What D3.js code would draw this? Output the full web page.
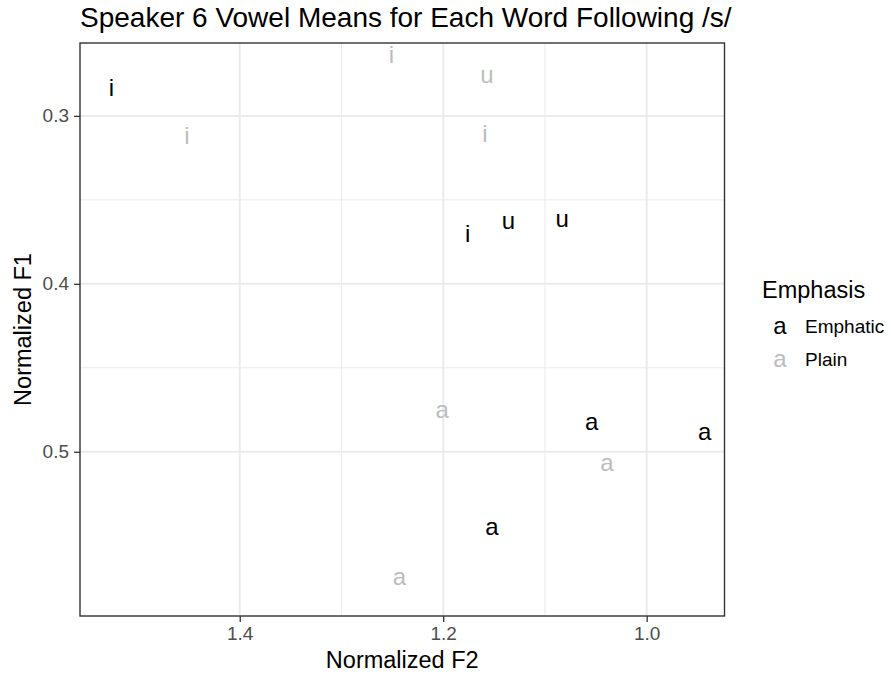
<!DOCTYPE html>
<html>
<head>
<meta charset="utf-8">
<script src="https://cdn.jsdelivr.net/npm/d3@7"></script>
<style>
  html, body { margin: 0; padding: 0; background: #fff; }
  svg { display: block; }
</style>
</head>
<body>
<svg id="chart" width="891" height="674"></svg>
<script>
// ---- data ----
const emphaticVowels = ["i", "i", "u", "u", "a", "a", "a"];
const emphaticF2     = [1.526, 1.176, 1.136, 1.083, 1.054, 0.943, 1.152];
const emphaticF1     = [0.284, 0.371, 0.363, 0.362, 0.4825, 0.489, 0.545];

const plainVowels = ["i", "u", "i", "i", "a", "a", "a"];
const plainF2     = [1.251, 1.157, 1.452, 1.159, 1.201, 1.039, 1.243];
const plainF1     = [0.264, 0.276, 0.3125, 0.3115, 0.4755, 0.507, 0.575];

const groups = ["Emphatic", "Plain"];
const groupColors = ["#000000", "#bdbdbd"];

const xMajor = [1.4, 1.2, 1.0];
const xMinor = [1.3, 1.1];
const yMajor = [0.3, 0.4, 0.5];
const yMinor = [0.35, 0.45];
const xDomain = [1.557, 0.9235];
const yDomain = [0.2566, 0.5978];

const titleText = "Speaker 6 Vowel Means for Each Word Following /s/";
const xTitle = "Normalized F2";
const yTitle = "Normalized F1";
const legendTitle = "Emphasis";

// ---- layout ----
const font = "'Liberation Sans', Arial, Helvetica, sans-serif";
const panel = { left: 80, right: 724.5, top: 43, bottom: 616 };

const svg = d3.select("#chart");
const x = d3.scaleLinear().domain(xDomain).range([panel.left, panel.right]);
const y = d3.scaleLinear().domain(yDomain).range([panel.top, panel.bottom]);
const color = d3.scaleOrdinal().domain(groups).range(groupColors);

const points = [];
emphaticVowels.forEach((v, i) => points.push({ v, f2: emphaticF2[i], f1: emphaticF1[i], g: "Emphatic" }));
plainVowels.forEach((v, i) => points.push({ v, f2: plainF2[i], f1: plainF1[i], g: "Plain" }));

// panel background
svg.append("rect")
  .attr("x", panel.left).attr("y", panel.top)
  .attr("width", panel.right - panel.left).attr("height", panel.bottom - panel.top)
  .attr("fill", "#ffffff");

const grid = svg.append("g");
// minor gridlines
grid.selectAll(".xminor").data(xMinor).enter().append("line")
  .attr("x1", d => x(d)).attr("x2", d => x(d))
  .attr("y1", panel.top).attr("y2", panel.bottom)
  .attr("stroke", "#ebebeb").attr("stroke-width", 1);
grid.selectAll(".yminor").data(yMinor).enter().append("line")
  .attr("y1", d => y(d)).attr("y2", d => y(d))
  .attr("x1", panel.left).attr("x2", panel.right)
  .attr("stroke", "#ebebeb").attr("stroke-width", 1);
// major gridlines
grid.selectAll(".xmajor").data(xMajor).enter().append("line")
  .attr("x1", d => x(d)).attr("x2", d => x(d))
  .attr("y1", panel.top).attr("y2", panel.bottom)
  .attr("stroke", "#ebebeb").attr("stroke-width", 2);
grid.selectAll(".ymajor").data(yMajor).enter().append("line")
  .attr("y1", d => y(d)).attr("y2", d => y(d))
  .attr("x1", panel.left).attr("x2", panel.right)
  .attr("stroke", "#ebebeb").attr("stroke-width", 2);

// data labels
svg.append("g").selectAll("text").data(points).enter().append("text")
  .attr("x", d => x(d.f2))
  .attr("y", d => y(d.f1))
  .attr("dy", "0.3em")
  .attr("text-anchor", "middle")
  .attr("font-family", font)
  .attr("font-size", 24)
  .attr("fill", d => color(d.g))
  .text(d => d.v);

// panel border
svg.append("rect")
  .attr("x", panel.left).attr("y", panel.top)
  .attr("width", panel.right - panel.left).attr("height", panel.bottom - panel.top)
  .attr("fill", "none").attr("stroke", "#333333").attr("stroke-width", 1.4);

// axes
const xAxis = d3.axisBottom(x).tickValues(xMajor).tickFormat(d3.format(".1f")).tickSize(6).tickPadding(5);
const yAxis = d3.axisLeft(y).tickValues(yMajor).tickFormat(d3.format(".1f")).tickSize(6).tickPadding(5);

const gx = svg.append("g").attr("transform", `translate(0,${panel.bottom})`).call(xAxis);
const gy = svg.append("g").attr("transform", `translate(${panel.left},0)`).call(yAxis);
[gx, gy].forEach(g => {
  g.select(".domain").remove();
  g.selectAll(".tick line").attr("stroke", "#333333").attr("stroke-width", 1.3);
  g.selectAll(".tick text").attr("fill", "#4d4d4d").attr("font-family", font).attr("font-size", 19);
});

// titles
svg.append("text")
  .attr("x", panel.left).attr("y", 27)
  .attr("font-family", font).attr("font-size", 28)
  .attr("fill", "#000").text(titleText);

svg.append("text")
  .attr("x", (panel.left + panel.right) / 2).attr("y", 668)
  .attr("text-anchor", "middle")
  .attr("font-family", font).attr("font-size", 23.5)
  .attr("fill", "#000").text(xTitle);

svg.append("text")
  .attr("transform", `translate(31,${(panel.top + panel.bottom) / 2}) rotate(-90)`)
  .attr("text-anchor", "middle")
  .attr("font-family", font).attr("font-size", 23.5)
  .attr("fill", "#000").text(yTitle);

// legend
const legend = svg.append("g");
legend.append("text")
  .attr("x", 762).attr("y", 298)
  .attr("font-family", font).attr("font-size", 23.5)
  .attr("fill", "#000").text(legendTitle);

const items = legend.selectAll(".item").data(groups).enter().append("g")
  .attr("transform", (d, i) => `translate(0,${326.5 + i * 33.3})`);
items.append("text")
  .attr("x", 780).attr("y", 0).attr("dy", "0.3em")
  .attr("text-anchor", "middle")
  .attr("font-family", font).attr("font-size", 24)
  .attr("fill", d => color(d)).text("a");
items.append("text")
  .attr("x", 805).attr("y", 0).attr("dy", "0.35em")
  .attr("font-family", font).attr("font-size", 19)
  .attr("fill", "#000").text(d => d);
</script>
</body>
</html>
